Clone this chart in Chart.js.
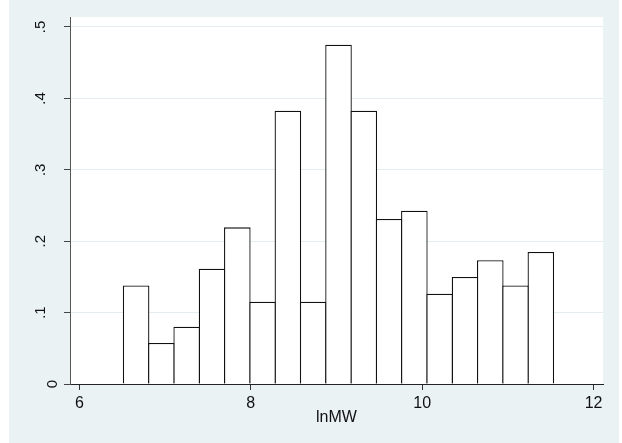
<!DOCTYPE html>
<html>
<head>
<meta charset="utf-8">
<script src="https://cdn.jsdelivr.net/npm/chart.js@4/dist/chart.umd.min.js"></script>
<style>
  body { margin: 0; background: #fff; }
  canvas { display: block; }
</style>
</head>
<body>
<canvas id="myChart" width="622" height="443"></canvas>
<script>
'use strict';

// lower edge of each bin (lnMW)
let binEdges = [6.514, 6.809, 7.104, 7.400, 7.695, 7.990, 8.285, 8.580, 8.876,
  9.171, 9.466, 9.761, 10.056, 10.352, 10.647, 10.942, 11.237];
let binWidth = 0.2952;
// density
let densities = [0.138, 0.0574, 0.0803, 0.1615, 0.2194, 0.1153, 0.3828, 0.1153, 0.4753,
  0.3828, 0.2311, 0.2428, 0.1265, 0.1499, 0.1733, 0.138, 0.1849];
let xTicks = [6, 8, 10, 12];
let yTicks = [0, 0.1, 0.2, 0.3, 0.4, 0.5];
let yTickLabels = ['0', '.1', '.2', '.3', '.4', '.5'];
let xTitle = 'lnMW';

const font = '"Liberation Sans", Arial, sans-serif';
const bgColor = '#eaf2f3';
const lineW = 1.3;

let points = [];
for (let i = 0; i < binEdges.length; i++) {
  points.push({ x: binEdges[i] + binWidth / 2, y: densities[i] });
}

const stataLook = {
  id: 'stataLook',
  beforeDraw(chart) {
    const ctx = chart.ctx;
    const a = chart.chartArea;
    ctx.save();
    ctx.fillStyle = '#fff';
    ctx.fillRect(0, 0, chart.width, chart.height);
    ctx.fillStyle = bgColor;
    ctx.fillRect(9, 0, 610, chart.height);
    ctx.fillStyle = '#fff';
    ctx.fillRect(a.left, a.top, a.right - a.left, a.bottom - a.top);
    ctx.restore();
  },
  afterDraw(chart) {
    // rotated y labels like stata (the 0 sits closer to the axis)
    const ctx = chart.ctx;
    const y = chart.scales.y;
    ctx.save();
    ctx.fillStyle = '#111';
    ctx.font = '15px ' + font;
    ctx.textAlign = 'center';
    ctx.textBaseline = 'alphabetic';
    for (let i = 0; i < yTicks.length; i++) {
      let bx = i === 0 ? 57 : 45;
      ctx.save();
      ctx.translate(bx, y.getPixelForValue(yTicks[i]));
      ctx.rotate(-Math.PI / 2);
      ctx.fillText(yTickLabels[i], 0, 0);
      ctx.restore();
    }
    ctx.restore();
  }
};

let ctx = document.getElementById('myChart').getContext('2d');

let myChart = new Chart(ctx, {
  type: 'bar',
  data: {
    datasets: [{
      data: points,
      backgroundColor: '#fff',
      borderColor: '#111',
      borderWidth: lineW,
      borderSkipped: 'start',
      // widen a bit so neighbouring borders land on the same line
      barPercentage: (25.29 + lineW) / 25.29,
      categoryPercentage: 1
    }]
  },
  options: {
    responsive: false,
    devicePixelRatio: 1,
    animation: false,
    layout: { padding: { top: 17, right: 19, left: 0, bottom: 0 } },
    plugins: {
      legend: { display: false },
      tooltip: { enabled: false }
    },
    scales: {
      x: {
        type: 'linear',
        z: 1,
        min: 5.89,
        max: 12.11,
        offset: false,
        afterBuildTicks: (scale) => { scale.ticks = xTicks.map(v => ({ value: v })); },
        afterFit: (scale) => { scale.height = 59; },
        grid: {
          drawOnChartArea: false,
          drawTicks: true,
          tickLength: 6,
          tickColor: '#333',
          offset: false
        },
        border: { color: '#222', width: 1 },
        ticks: {
          color: '#111',
          padding: 4,
          maxRotation: 0,
          font: { family: font, size: 16 },
          callback: (v) => String(v)
        },
        title: {
          display: true,
          text: xTitle,
          color: '#111',
          font: { family: font, size: 16 },
          padding: { top: 0, bottom: 16 }
        }
      },
      y: {
        min: 0,
        max: 0.514,
        afterBuildTicks: (scale) => { scale.ticks = yTicks.map(v => ({ value: v })); },
        afterFit: (scale) => { scale.width = 70; },
        grid: {
          color: (c) => (c.tick && c.tick.value === 0 ? 'rgba(0,0,0,0)' : '#e4eef0'),
          tickColor: '#444',
          tickLength: 6,
          drawTicks: true
        },
        border: { color: '#555', width: 1 },
        ticks: { display: false }
      }
    }
  },
  plugins: [stataLook]
});
</script>
</body>
</html>
